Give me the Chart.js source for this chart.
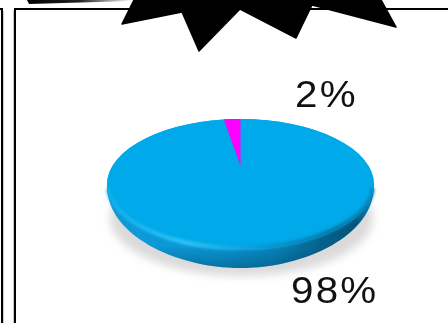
<!DOCTYPE html>
<html lang="en">
<head>
    <meta charset="UTF-8">
    <title>Pie</title>
    <script src="https://cdn.jsdelivr.net/npm/chart.js"></script>
    <style>
        html, body { margin: 0; background: #fff; }
        canvas { display: block; }
    </style>
</head>
<body>
    <canvas id="pieChart" width="448" height="323"></canvas>

    <script>
        const categories = ['Large', 'Small'];
        const shares = [98, 2];
        const sliceColors = ['#00a9e9', '#ff00ff'];

        // tilt of each slice: [center y, vertical squash]
        const sliceTilt = [[184.5, 65.5 / 133.5], [166, 47 / 133.5]];

        // starburst that hangs over the frame
        const burst = [[135, -2], [122, 24], [182, 12], [199, 51], [240, 9], [296, 38], [312, 5], [396, 27], [380, -2]];

        function ellipsePath(ctx, x, y, rx, ry) {
            ctx.beginPath();
            ctx.ellipse(x, y, rx, ry, 0, 0, Math.PI * 2);
        }

        const framePlugin = {
            id: 'frame',
            beforeDraw(chart) {
                const ctx = chart.ctx;
                ctx.save();
                ctx.fillStyle = '#c8c8c8';
                ctx.fillRect(3, 11, 1, 312);
                ctx.fillRect(13, 10, 1, 313);
                ctx.fillStyle = '#000';
                ctx.fillRect(1, 8, 2, 315);
                ctx.fillRect(0, 8, 3, 2);
                ctx.fillRect(14, 8, 2, 315);
                ctx.fillRect(14, 8, 434, 2);
                // tapered stroke at the top left
                const fade = ctx.createLinearGradient(28, 0, 132, 0);
                fade.addColorStop(0, '#000');
                fade.addColorStop(0.5, '#222');
                fade.addColorStop(1, '#fff');
                ctx.fillStyle = fade;
                ctx.beginPath();
                ctx.moveTo(27, 0);
                ctx.lineTo(29, 4);
                ctx.lineTo(132, 1);
                ctx.lineTo(132, 0);
                ctx.closePath();
                ctx.fill();
                ctx.restore();
            },
            afterDraw(chart) {
                const ctx = chart.ctx;
                ctx.save();
                ctx.fillStyle = '#000';
                ctx.strokeStyle = '#000';
                ctx.lineWidth = 1.5;
                ctx.lineJoin = 'round';
                ctx.beginPath();
                burst.forEach((p, i) => i ? ctx.lineTo(p[0], p[1]) : ctx.moveTo(p[0], p[1]));
                ctx.closePath();
                ctx.fill();
                ctx.stroke();
                ctx.restore();
            }
        };

        // disc body under the slices, then the slices squashed onto it
        const discPlugin = {
            id: 'disc',
            beforeDatasetDraw(chart, args) {
                const ctx = chart.ctx;
                const arcs = args.meta.data;
                const cx = arcs[0].x;
                const rx = arcs[0].outerRadius;

                ctx.save();
                ctx.filter = 'blur(4px)';
                ctx.fillStyle = '#dadada';
                ellipsePath(ctx, cx + 1, 218, rx - 2, 58);
                ctx.fill();
                ctx.restore();

                ctx.save();
                const side = ctx.createLinearGradient(cx - rx, 0, cx + rx, 0);
                side.addColorStop(0, '#0d9ad8');
                side.addColorStop(0.45, '#0a98d6');
                side.addColorStop(0.62, '#0888bf');
                side.addColorStop(0.8, '#05628d');
                side.addColorStop(0.93, '#04547b');
                side.addColorStop(1, '#0a86bc');
                ctx.fillStyle = side;
                ctx.beginPath();
                ctx.moveTo(cx - rx, 186);
                ctx.bezierCurveTo(cx - rx, 235, cx - 65, 268, cx, 268);
                ctx.bezierCurveTo(cx + 65, 268, cx + rx, 235, cx + rx, 186);
                ctx.closePath();
                ctx.fill();
                const under = ctx.createLinearGradient(0, 245, 0, 268);
                under.addColorStop(0, 'rgba(0,50,80,0)');
                under.addColorStop(1, 'rgba(0,50,80,0.38)');
                ctx.fillStyle = under;
                ctx.fill();
                ctx.restore();

                // face of the disc, shows through where the slices leave a gap
                ctx.save();
                ctx.fillStyle = sliceColors[0];
                ellipsePath(ctx, cx, 184.5, rx, 65.5);
                ctx.fill();
                ctx.restore();

                arcs.forEach((arc, i) => {
                    ctx.save();
                    ctx.translate(cx, sliceTilt[i][0]);
                    ctx.scale(1, sliceTilt[i][1]);
                    ctx.translate(-cx, -arc.y);
                    arc.draw(ctx);
                    ctx.restore();
                });

                // bevel round the lower edge of the face
                ctx.save();
                const bevel = ctx.createLinearGradient(cx - rx, 0, cx + rx, 0);
                bevel.addColorStop(0, '#12aeea');
                bevel.addColorStop(0.3, '#35c4f5');
                bevel.addColorStop(0.55, '#0e9ad6');
                bevel.addColorStop(0.85, '#07719f');
                bevel.addColorStop(1, '#0a86bc');
                ctx.strokeStyle = bevel;
                ctx.lineWidth = 4;
                ctx.filter = 'blur(1.5px)';
                ctx.beginPath();
                ctx.ellipse(cx, 184.5, rx - 1, 63.5, 0, Math.PI * 0.98, Math.PI * 0.02, true);
                ctx.stroke();
                ctx.restore();
                return false;
            },
            afterDatasetsDraw(chart) {
                const ctx = chart.ctx;
                ctx.save();
                ctx.fillStyle = '#111';
                ctx.font = '36px "Liberation Sans"';
                ctx.letterSpacing = '2px';
                ctx.textBaseline = 'alphabetic';
                // widened percentage labels
                const labelAt = [[291, 303], [295, 107]];
                shares.forEach((v, i) => {
                    ctx.save();
                    ctx.translate(labelAt[i][0], labelAt[i][1]);
                    ctx.scale(1.12, 1);
                    ctx.fillText(v + '%', 0, 0);
                    ctx.restore();
                });
                ctx.restore();
            }
        };

        new Chart(document.getElementById('pieChart'), {
            type: 'pie',
            data: {
                labels: categories,
                datasets: [{
                    data: shares,
                    backgroundColor: sliceColors,
                    borderWidth: 0
                }]
            },
            options: {
                responsive: false,
                animation: false,
                layout: { padding: { left: 107, right: 74, top: 48.5, bottom: 7.5 } },
                plugins: {
                    legend: { display: false },
                    tooltip: { enabled: false }
                }
            },
            plugins: [framePlugin, discPlugin]
        });
    </script>
</body>
</html>
